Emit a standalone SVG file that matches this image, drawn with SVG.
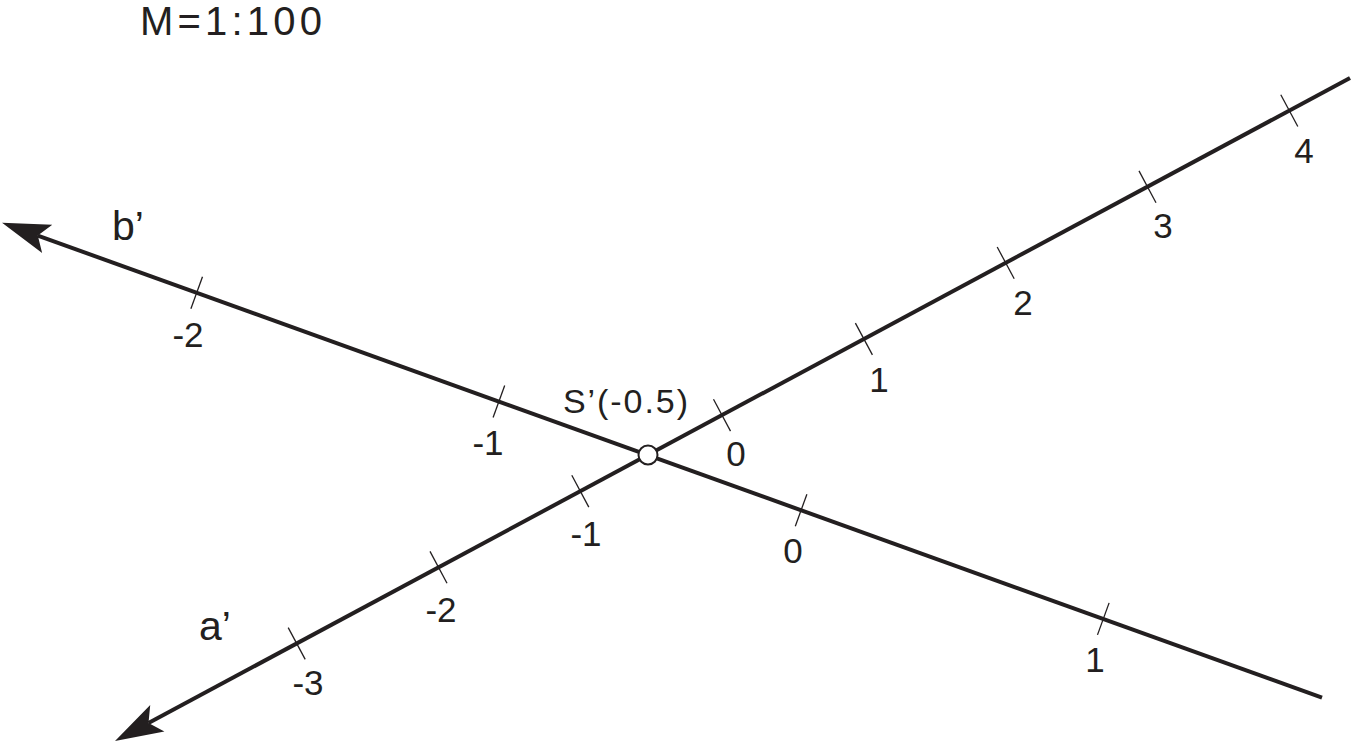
<svg xmlns="http://www.w3.org/2000/svg" width="1352" height="742" viewBox="0 0 1352 742">
<style>
.ax{stroke:#231f20;stroke-width:4;fill:none}
.tk{stroke:#231f20;stroke-width:1.3}
text{font-family:"Liberation Sans",Arial,sans-serif;fill:#231f20}
.n{font-size:35px;text-anchor:middle}
.lbl{font-size:41px}
</style>
<defs>
<marker id="arr" markerUnits="userSpaceOnUse" orient="auto-start-reverse" refX="0" refY="0" markerWidth="100" markerHeight="100" overflow="visible">
<path d="M38,0 L-10,-15 L0,0 L-10,15 Z" fill="#231f20"/>
</marker>
</defs>
<text id="scale" x="140" y="35" font-size="40" textLength="182" lengthAdjust="spacing">M=1:100</text>
<g id="connectors">
<line id="a" class="ax" x1="148.5" y1="723" x2="1350" y2="78" marker-start="url(#arr)"/>
<line id="b" class="ax" x1="37.8" y1="235.6" x2="1322" y2="697.7" marker-start="url(#arr)"/>
</g>
<g id="ticks-a">
<line class="tk" x1="288.2" y1="627.6" x2="305.2" y2="659.4"/>
<line class="tk" x1="430" y1="551.4" x2="447" y2="583.2"/>
<line class="tk" x1="571.8" y1="475.3" x2="588.8" y2="507.1"/>
<line class="tk" x1="713.5" y1="399.3" x2="730.5" y2="431.1"/>
<line class="tk" x1="855.4" y1="323.1" x2="872.4" y2="354.9"/>
<line class="tk" x1="997.2" y1="247" x2="1014.2" y2="278.8"/>
<line class="tk" x1="1139" y1="170.9" x2="1156" y2="202.7"/>
<line class="tk" x1="1280.8" y1="94.7" x2="1297.8" y2="126.5"/>
</g>
<g id="ticks-b">
<line class="tk" x1="202.5" y1="276.8" x2="190.9" y2="308.8"/>
<line class="tk" x1="504.7" y1="385.5" x2="493.1" y2="417.5"/>
<line class="tk" x1="806.9" y1="494.2" x2="795.3" y2="526.2"/>
<line class="tk" x1="1109.1" y1="602.9" x2="1097.5" y2="634.9"/>
</g>
<g id="labels-a">
<text class="n" x="308" y="695">-3</text>
<text class="n" x="441" y="622">-2</text>
<text class="n" x="586" y="546">-1</text>
<text class="n" x="736" y="466">0</text>
<text class="n" x="879" y="392">1</text>
<text class="n" x="1023" y="315">2</text>
<text class="n" x="1163" y="238">3</text>
<text class="n" x="1304" y="163">4</text>
</g>
<g id="labels-b">
<text class="n" x="188" y="347">-2</text>
<text class="n" x="488" y="455">-1</text>
<text class="n" x="793" y="563">0</text>
<text class="n" x="1095" y="672">1</text>
</g>
<text id="label-a" class="lbl" x="199" y="640">a’</text>
<text id="label-b" class="lbl" x="112" y="240">b’</text>
<g id="S">
<circle cx="648" cy="455" r="9.5" fill="#fff" stroke="#231f20" stroke-width="2"/>
<text x="563" y="413" font-size="34" textLength="125" lengthAdjust="spacing">S’(-0.5)</text>
</g>
</svg>
